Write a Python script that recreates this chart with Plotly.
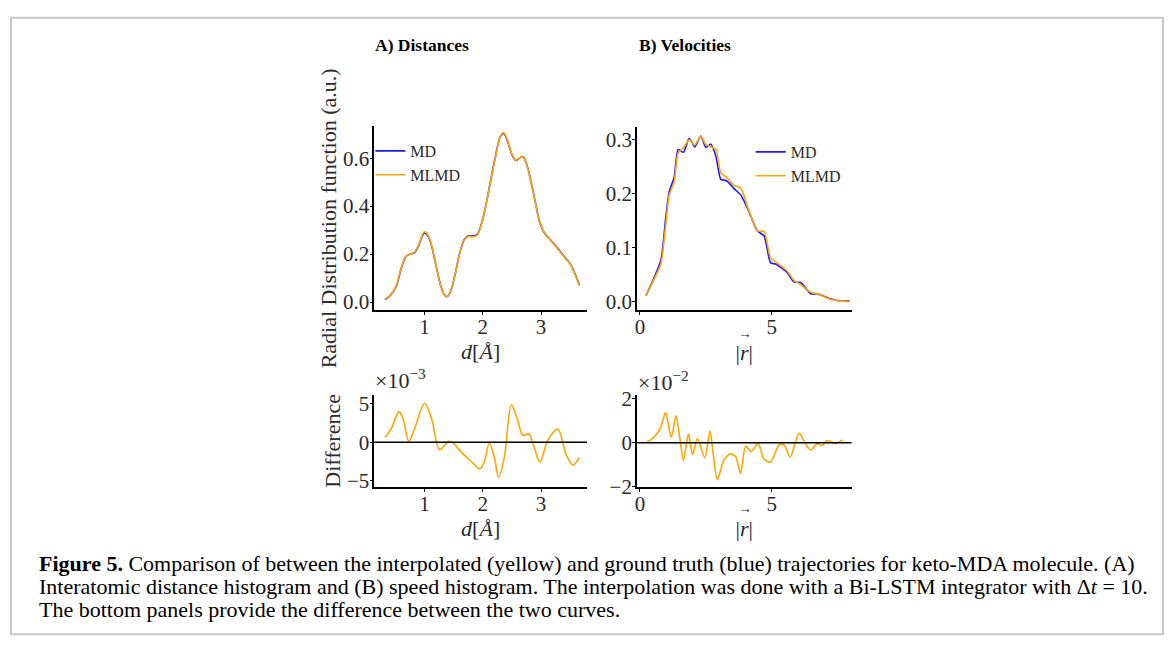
import plotly.graph_objects as go

# ---------------- data ----------------
dist_x = [0.32, 0.42, 0.52, 0.60, 0.68, 0.75, 0.82, 0.90, 0.95, 1.00, 1.06, 1.12, 1.20, 1.27,
          1.33, 1.38, 1.44, 1.52, 1.60, 1.68, 1.75, 1.82, 1.90, 1.97, 2.05, 2.13, 2.22, 2.30,
          2.36, 2.42, 2.50, 2.57, 2.63, 2.69, 2.76, 2.83, 2.90, 2.97, 3.03, 3.12, 3.25, 3.40,
          3.50, 3.58, 3.66]
dist_md = [0.010, 0.030, 0.070, 0.140, 0.190, 0.200, 0.205, 0.235, 0.270, 0.288, 0.275, 0.235,
           0.150, 0.075, 0.035, 0.022, 0.040, 0.110, 0.200, 0.260, 0.275, 0.275, 0.280, 0.320,
           0.400, 0.500, 0.610, 0.690, 0.703, 0.675, 0.615, 0.590, 0.600, 0.607, 0.570, 0.500,
           0.420, 0.340, 0.300, 0.270, 0.235, 0.190, 0.160, 0.120, 0.070]
dist_mlmd = [0.011, 0.031, 0.073, 0.144, 0.191, 0.200, 0.207, 0.238, 0.274, 0.293, 0.279, 0.237,
             0.150, 0.074, 0.035, 0.022, 0.040, 0.110, 0.199, 0.258, 0.273, 0.272, 0.277, 0.319,
             0.399, 0.497, 0.606, 0.691, 0.706, 0.678, 0.617, 0.591, 0.601, 0.605, 0.568, 0.498,
             0.418, 0.342, 0.302, 0.271, 0.233, 0.188, 0.158, 0.117, 0.068]

vel_x = [0.23, 0.54, 0.80, 0.98, 1.11, 1.30, 1.45, 1.65, 1.87, 2.08, 2.31, 2.50, 2.69, 2.88,
         3.07, 3.26, 3.45, 3.57, 3.83, 4.08, 4.46, 4.71, 4.96, 5.15, 5.59, 5.84, 6.10, 6.48,
         6.73, 7.23, 7.61, 7.95]
vel_md = [0.012, 0.045, 0.078, 0.155, 0.203, 0.230, 0.281, 0.276, 0.302, 0.286, 0.306, 0.285,
          0.291, 0.269, 0.226, 0.224, 0.216, 0.209, 0.197, 0.173, 0.131, 0.122, 0.072, 0.070,
          0.054, 0.037, 0.036, 0.015, 0.015, 0.006, 0.002, 0.002]
vel_mlmd = [0.012, 0.042, 0.071, 0.142, 0.197, 0.221, 0.275, 0.284, 0.299, 0.289, 0.306, 0.290,
            0.286, 0.281, 0.238, 0.231, 0.221, 0.215, 0.210, 0.176, 0.131, 0.130, 0.081, 0.074,
            0.057, 0.040, 0.032, 0.018, 0.015, 0.005, 0.002, 0.001]

# differences (units shown on the axis: x10^-3 and x10^-2)
ddist_x = [0.32, 0.43, 0.56, 0.63, 0.73, 0.83, 1.00, 1.12, 1.26, 1.41, 1.49, 1.64, 1.80, 1.95,
           2.03, 2.11, 2.20, 2.27, 2.37, 2.49, 2.59, 2.69, 2.79, 2.88, 2.98, 3.12, 3.29, 3.43,
           3.55, 3.66]
ddist_y = [0.6, 1.8, 4.0, 3.1, 0.1, 1.8, 5.1, 3.1, -1.0, 0.1, -0.1, -1.4, -2.5, -3.5, -2.5,
           -0.1, -2.0, -4.6, -2.0, 4.9, 3.1, 0.9, 1.1, -0.6, -2.6, 0.3, 1.7, -1.6, -3.0, -2.0]

dvel_x = [0.25, 0.53, 0.78, 0.97, 1.19, 1.37, 1.52, 1.65, 1.84, 2.00, 2.18, 2.46, 2.66, 2.78,
          2.94, 3.19, 3.42, 3.63, 3.82, 4.01, 4.22, 4.49, 4.70, 4.96, 5.28, 5.47, 5.70, 6.04,
          6.29, 6.48, 6.73, 6.90, 7.11, 7.43, 7.68]
dvel_y = [0.0, 0.25, 0.66, 1.37, 0.25, 1.22, 0.15, -0.81, 0.40, -0.54, 0.19, -0.69, 0.54, -0.51,
          -1.69, -0.78, -0.51, -0.63, -1.40, -0.15, -0.40, -0.03, -0.74, -0.88, -0.10, -0.10,
          -0.66, 0.44, -0.07, -0.34, -0.04, -0.13, 0.10, -0.04, 0.13]

dist_ticks = [1, 2, 3]
vel_ticks = [0, 5]
rdf_dist_yticks = [0.0, 0.2, 0.4, 0.6]
rdf_vel_yticks = [0.0, 0.1, 0.2, 0.3]
ddist_yticks = [-5, 0, 5]
dvel_yticks = [-2, 0, 2]

caption_lines = [
    "<b>Figure 5.</b> Comparison of between the interpolated (yellow) and ground truth (blue) "
    "trajectories for keto-MDA molecule. (A)",
    "Interatomic distance histogram and (B) speed histogram. The interpolation was done with a "
    "Bi-LSTM integrator with Δ<i>t</i> = 10.",
    "The bottom panels provide the difference between the two curves.",
]

# ---------------- layout helpers ----------------
W, H = 1169, 653
def fx(p):
    return p / W
def fy(p):
    return 1 - p / H

BLUE = "#1a1aff"
ORANGE = "#ffa500"
SERIF = "Liberation Serif"
TXT = "#2a2a2a"

fig = go.Figure()
fig.add_trace(go.Scatter(x=dist_x, y=dist_md, name="MD", mode="lines",
                         line=dict(color=BLUE, width=1.6, shape="spline", smoothing=0.8),
                         xaxis="x", yaxis="y", legend="legend"))
fig.add_trace(go.Scatter(x=dist_x, y=dist_mlmd, name="MLMD", mode="lines",
                         line=dict(color=ORANGE, width=1.6, shape="spline", smoothing=0.8),
                         xaxis="x", yaxis="y", legend="legend"))
fig.add_trace(go.Scatter(x=vel_x, y=vel_md, name="MD", mode="lines",
                         line=dict(color=BLUE, width=1.6, shape="spline", smoothing=0.6),
                         xaxis="x2", yaxis="y2", legend="legend2"))
fig.add_trace(go.Scatter(x=vel_x, y=vel_mlmd, name="MLMD", mode="lines",
                         line=dict(color=ORANGE, width=1.6, shape="spline", smoothing=0.6),
                         xaxis="x2", yaxis="y2", legend="legend2"))
fig.add_trace(go.Scatter(x=ddist_x, y=ddist_y, mode="lines", showlegend=False,
                         line=dict(color=ORANGE, width=1.6, shape="spline", smoothing=0.9),
                         xaxis="x3", yaxis="y3"))
fig.add_trace(go.Scatter(x=dvel_x, y=dvel_y, mode="lines", showlegend=False,
                         line=dict(color=ORANGE, width=1.6, shape="spline", smoothing=0.7),
                         xaxis="x4", yaxis="y4"))

tickfont = dict(family=SERIF, size=21, color=TXT)
titlefont = dict(family=SERIF, size=22, color=TXT)
common = dict(showline=True, linecolor="black", linewidth=1.6, ticks="outside", ticklen=3,
              tickcolor="black", tickwidth=1, showgrid=False, zeroline=False,
              tickfont=tickfont)
xcommon = dict(common, ticklabelstandoff=-6)
ycommon = dict(common, ticklabelstandoff=-4)

xa_left = dict(domain=[fx(373), fx(586)], range=[0.138, 3.79], tickvals=dist_ticks)
xa_right = dict(domain=[fx(636), fx(851)], range=[-0.114, 8.03], tickvals=vel_ticks)

fig.update_layout(
    width=W, height=H,
    margin=dict(l=0, r=0, t=0, b=0),
    paper_bgcolor="white", plot_bgcolor="white",
    xaxis=dict(**xcommon, **xa_left, anchor="y",
               title=dict(text="<i>d</i>[<i>Å</i>]", font=titlefont, standoff=4)),
    yaxis=dict(**ycommon, domain=[fy(312), fy(122)], range=[-0.035, 0.733],
               tickvals=rdf_dist_yticks, tickformat=".1f", anchor="x",
               title=dict(text="Radial Distribution function (a.u.)", font=titlefont, standoff=0)),
    xaxis2=dict(**xcommon, **xa_right, anchor="y2",
                title=dict(text="|<i>r</i>|", font=titlefont, standoff=6)),
    yaxis2=dict(**ycommon, domain=[fy(312), fy(123)], range=[-0.0156, 0.3222],
                tickvals=rdf_vel_yticks, tickformat=".1f", anchor="x2"),
    xaxis3=dict(**xcommon, **xa_left, anchor="y3",
                title=dict(text="<i>d</i>[<i>Å</i>]", font=titlefont, standoff=4)),
    yaxis3=dict(**ycommon, domain=[fy(494), fy(399)], range=[-5.85, 6.2],
                tickvals=ddist_yticks, anchor="x3",
                title=dict(text="Difference", font=titlefont, standoff=0)),
    xaxis4=dict(**xcommon, **xa_right, anchor="y4",
                title=dict(text="|<i>r</i>|", font=titlefont, standoff=6)),
    yaxis4=dict(**ycommon, domain=[fy(494), fy(399)], range=[-2.01, 2.18],
                tickvals=dvel_yticks, anchor="x4"),
    legend=dict(x=fx(369), y=fy(130), xanchor="left", yanchor="top",
                bgcolor="rgba(0,0,0,0)", font=dict(family=SERIF, size=16, color=TXT),
                itemwidth=30, tracegroupgap=0),
    legend2=dict(x=fx(750), y=fy(131), xanchor="left", yanchor="top",
                 bgcolor="rgba(0,0,0,0)", font=dict(family=SERIF, size=16, color=TXT),
                 itemwidth=30, tracegroupgap=0),
)

# zero reference lines in difference panels
for xr, yr in (("x3", "y3"), ("x4", "y4")):
    fig.add_shape(type="line", xref=f"{xr} domain", yref=yr, x0=0, x1=1, y0=0, y1=0,
                  line=dict(color="black", width=1.5))

# figure border
fig.add_shape(type="rect", xref="paper", yref="paper", x0=fx(9), x1=fx(1163),
              y0=fy(646), y1=fy(10), line=dict(color="#c8c8c8", width=2), layer="below")

for text, px in (("<b>A) Distances</b>", 421), ("<b>B) Velocities</b>", 684)):
    fig.add_annotation(text=text, x=fx(px), y=fy(38), xref="paper", yref="paper",
                       showarrow=False, xanchor="center", yanchor="middle",
                       font=dict(family=SERIF, size=17.5, color="black"))

# vector arrows over the r in the |r| axis titles
for py in (336, 516):
    fig.add_annotation(text="→", x=fx(744), y=fy(py), xref="paper", yref="paper",
                       showarrow=False, xanchor="center", yanchor="middle",
                       font=dict(family=SERIF, size=14, color=TXT))

fig.add_annotation(text="×10<sup>−3</sup>", x=fx(372), y=fy(383), xref="paper", yref="paper",
                   showarrow=False, xanchor="left", yanchor="middle",
                   font=dict(family=SERIF, size=22, color=TXT))
fig.add_annotation(text="×10<sup>−2</sup>", x=fx(635), y=fy(385), xref="paper", yref="paper",
                   showarrow=False, xanchor="left", yanchor="middle",
                   font=dict(family=SERIF, size=22, color=TXT))

for line, py in zip(caption_lines, (573, 597, 620)):
    fig.add_annotation(text=line, x=fx(35), y=fy(py), xref="paper", yref="paper",
                       showarrow=False, xanchor="left", yanchor="middle", align="left",
                       font=dict(family=SERIF, size=22, color="black"))

fig.write_html("out.html")
